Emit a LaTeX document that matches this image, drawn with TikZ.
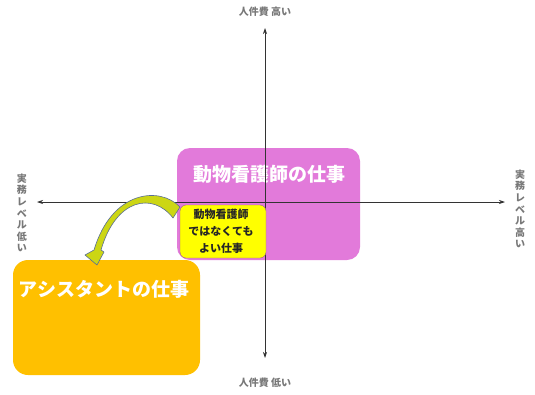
\documentclass[tikz,border=0pt]{standalone}
\usepackage{fontspec}
\setmainfont{Noto Sans CJK JP}
\usetikzlibrary{arrows.meta}
\definecolor{pinkbox}{RGB}{226,122,218}
\definecolor{orangebox}{RGB}{255,192,0}
\definecolor{yelbox}{RGB}{255,255,0}
\definecolor{axlabel}{RGB}{120,120,120}
\definecolor{arrowfill}{RGB}{204,214,20}
\definecolor{arrowline}{RGB}{90,110,150}
\tikzset{
  axis/.style={draw=black!80, line width=0.7pt, -{Stealth[length=6pt,width=4pt]}},
  axlab/.style={text=axlabel, font=\fontsize{10}{11.6}\selectfont\bfseries, inner sep=0pt},
  vlab/.style={axlab, align=center, text width=12pt},
  title/.style={text=white, font=\fontsize{19}{22}\selectfont\bfseries, inner sep=0pt},
  smalltxt/.style={text=black!85, font=\fontsize{11}{17}\selectfont\bfseries, align=center, inner sep=0pt}
}
\begin{document}
\begin{tikzpicture}[x=1pt,y=-1pt]
\useasboundingbox (0,0) rectangle (535,394);
% boxes
\fill[pinkbox, rounded corners=13pt] (177,148) rectangle (360,260);
\fill[orangebox, rounded corners=15pt] (13,260) rectangle (200,375);
\node[title] (pinkt) at (269.5,174) {動物看護師の仕事};
\node[title] (oranget) at (104,289) {アシスタントの仕事};
% axes
\coordinate (vt) at (265,28);
\coordinate (vb) at (265,358);
\coordinate (hl) at (37,202);
\coordinate (hr) at (505,202);
\coordinate (c) at (265,202);
\draw[axis] (c) -- (vt);
\draw[axis] (c) -- (vb);
\draw[axis] (c) -- (hl);
\draw[axis] (c) -- (hr);
\node[axlab] (top) at (265,12) {人件費 高い};
\node[axlab] (bot) at (265,383) {人件費 低い};
\node[vlab] (left) at (22,213) {実\\務\\レ\\ベ\\ル\\低\\い};
\node[vlab] (right) at (520,209) {実\\務\\レ\\ベ\\ル\\高\\い};
% yellow box
\draw[fill=yelbox, draw=pinkbox!70!black, line width=0.4pt, rounded corners=6pt] (180,205) rectangle (266,258);
\node[smalltxt] (ytxt) at (221,231) {動物看護師\\ではなくても\\よい仕事};
% curved arrow
\filldraw[fill=arrowfill, draw=arrowline, line width=0.6pt, line join=round]
  (180,207) .. controls (160,186) and (112,190) .. (94,250)
  -- (85,255) -- (97,265) -- (104,252) -- (101,250)
  .. controls (116,198) and (153,192) .. (173,218) -- cycle;
\end{tikzpicture}
\end{document}
